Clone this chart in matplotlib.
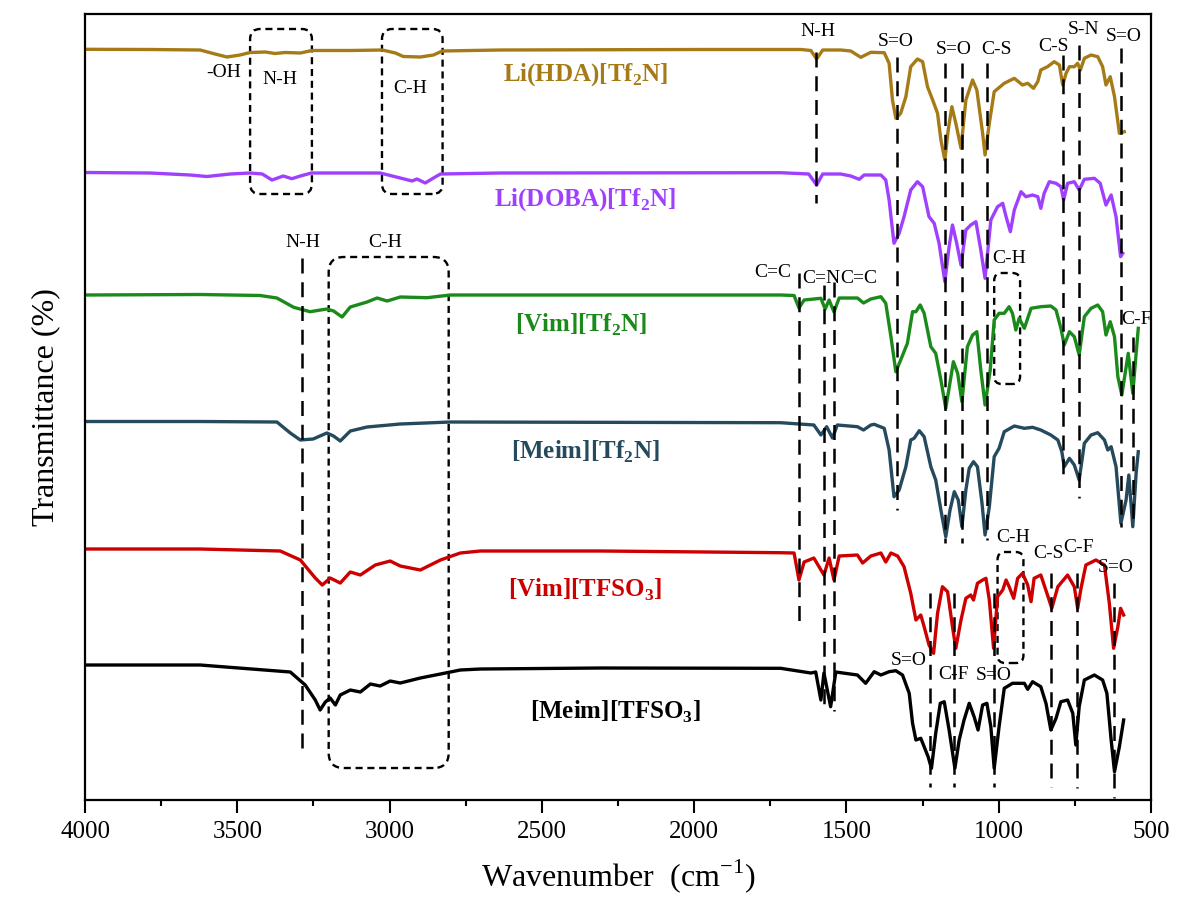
import matplotlib
matplotlib.use("Agg")
import matplotlib.pyplot as plt
from matplotlib.patches import FancyBboxPatch

plt.rcParams['font.family'] = ['Liberation Serif', 'DejaVu Serif']
plt.rcParams['mathtext.fontset'] = 'custom'
plt.rcParams['mathtext.rm'] = 'Liberation Serif'
plt.rcParams['mathtext.bf'] = 'Liberation Serif:bold'

# spectra: wavenumber (cm-1) and offset transmittance (a.u.)
hda_wn = [4000, 3786, 3622, 3573, 3534, 3491, 3458, 3408, 3376, 3343, 3293, 3255, 3129, 3024, 2981,
          2955, 2899, 2856, 2827, 2636, 1979, 1650, 1617, 1598, 1578, 1519, 1486, 1453, 1420, 1376,
          1360, 1349, 1338, 1322, 1305, 1289, 1267, 1250, 1234, 1217, 1201, 1190, 1177, 1166, 1154,
          1141, 1124, 1108, 1086, 1072, 1053, 1045, 1031, 1015, 982, 949, 922, 905, 886, 872, 862,
          840, 818, 801, 790, 779, 768, 752, 741, 732, 719, 697, 675, 659, 648, 634, 620, 604, 588]
hda_t = [750.7, 750.5, 750, 746, 743, 745, 747.5, 748, 746.5, 747.5, 747, 749.5, 749.5, 750, 747,
         743.5, 743, 745, 749, 750, 750.5, 750.5, 749.5, 741, 750, 750, 749, 742.7, 747.7, 747.3,
         736.7, 700, 681.7, 686.7, 703.3, 733.3, 741, 738.3, 713.3, 700, 686.7, 660, 640, 670, 693.3,
         676.7, 651.7, 700, 720, 710, 666.7, 645, 676.7, 708.3, 716.7, 721.7, 715, 716.7, 711.7, 718.3, 730,
         733.3, 738.3, 735, 715, 726.7, 733.3, 733.3, 736.7, 730, 741.7, 745, 743.3, 733.3, 715, 723.3, 703.3, 666.7, 668.3]

doba_wn = [4000, 3786, 3655, 3600, 3523, 3458, 3418, 3386, 3349, 3321, 3293, 3257, 3031, 2965, 2926,
           2910, 2883, 2856, 2833, 2636, 1716, 1624, 1598, 1578, 1519, 1486, 1458, 1442, 1387, 1371,
           1360, 1344, 1327, 1311, 1289, 1267, 1250, 1229, 1212, 1196, 1177, 1163, 1152, 1138, 1124,
           1108, 1092, 1075, 1059, 1045, 1026, 1004, 987, 976, 962, 949, 927, 911, 889, 872, 862, 851,
           834, 812, 796, 787, 774, 752, 736, 719, 686, 667, 648, 631, 615, 600, 593]
doba_t = [627.5, 627, 625, 623.5, 626, 627, 626, 620, 624, 621.3, 624, 627, 627, 622, 619,
          621, 617, 622, 626, 627, 627.3, 626, 615, 626, 626, 624, 620.7, 625, 625, 620,
          600, 556.7, 566.7, 583.3, 610, 618.3, 613.3, 583.3, 576.7, 556.7, 518.3, 553.3, 575, 556.7, 535,
          570, 575, 578.3, 550, 521.7, 580, 593.3, 596.7, 583.3, 568.3, 590, 608.3, 603.3, 605, 603.3, 591.7, 606.7,
          618.3, 616.7, 613.3, 600, 616.7, 618.3, 610, 620.7, 621.7, 616.7, 595, 605, 583.3, 543.3, 546.7]

vim_tf2n_wn = [4000, 3622, 3425, 3370, 3315, 3261, 3206, 3184, 3156, 3129, 3074, 3041, 3008, 2965, 2877,
               2800, 2307, 1716, 1672, 1656, 1639, 1584, 1570, 1557, 1541, 1524, 1464, 1444, 1420, 1387,
               1371, 1354, 1338, 1322, 1300, 1283, 1272, 1258, 1245, 1223, 1207, 1190, 1174, 1157, 1149,
               1135, 1121, 1103, 1086, 1072, 1059, 1045, 1028, 1015, 999, 982, 966, 955, 944, 933, 916,
               894, 862, 829, 812, 796, 785, 768, 752, 736, 719, 697, 675, 659, 648, 634, 620, 609, 596,
               585, 575, 560, 549, 542]
vim_tf2n_t = [505, 505.5, 504.5, 502, 492.7, 488.3, 491, 489, 483, 493, 498, 502, 499, 503, 502.3,
              505, 505, 505, 504.5, 492, 500, 501.7, 491, 500, 488, 502, 502, 497, 501, 503.3,
              496.7, 463.3, 428.3, 440, 456.7, 488.3, 488.3, 495, 486.7, 453.3, 446.7, 420, 391.7, 423.3, 438.3,
              426.7, 398.3, 453.3, 465, 468.3, 430, 395, 430, 480, 486.7, 486.7, 493.3, 486.7, 470, 481.7, 471.7,
              491.7, 493.3, 494, 490, 471.7, 455, 468.3, 463.3, 445, 483.3, 491.7, 495, 488.3, 465, 478.3, 463.3, 423.3, 405,
              426.7, 446.7, 406.7, 446.7, 471.7]

meim_tf2n_wn = [4000, 3622, 3370, 3326, 3293, 3251, 3206, 3184, 3162, 3129, 3074, 2965, 2800, 1716, 1607,
                1584, 1565, 1546, 1530, 1464, 1444, 1420, 1409, 1376, 1360, 1344, 1327, 1305, 1289, 1278,
                1261, 1245, 1223, 1207, 1190, 1174, 1160, 1146, 1133, 1121, 1108, 1097, 1083, 1070, 1055,
                1045, 1031, 1015, 999, 982, 949, 916, 889, 862, 829, 806, 793, 785, 768, 752, 736, 719,
                697, 675, 653, 642, 631, 615, 599, 582, 573, 560, 549, 542]
meim_tf2n_t = [378.5, 378.5, 378, 367, 360, 361, 367, 364, 359, 369, 373, 376, 378, 377.3, 375,
               365, 373.3, 362, 375, 373.3, 370, 375, 375.7, 371.7, 350, 303.3, 310, 333.3, 360, 361.7,
               369.3, 363.3, 333.3, 320, 290, 263.3, 290, 308.3, 300, 273.3, 310, 331.7, 338.3, 333.3, 296.7,
               265, 293.3, 343.3, 351.7, 368.3, 374, 371.7, 372.7, 370, 365, 360, 348.3, 333.3, 341.7, 335, 320, 356.7,
               365, 367.3, 360, 350, 353.3, 333.3, 276.7, 300, 325, 273.3, 326.7, 348.3]

vim_tfso3_wn = [4000, 3622, 3359, 3293, 3244, 3221, 3195, 3162, 3129, 3096, 3047, 2998, 2965, 2899, 2833,
                2768, 2702, 2307, 1716, 1672, 1656, 1639, 1607, 1574, 1557, 1541, 1524, 1464, 1447, 1420,
                1387, 1371, 1354, 1332, 1311, 1289, 1272, 1256, 1245, 1229, 1214, 1201, 1185, 1168, 1152,
                1141, 1124, 1108, 1092, 1083, 1070, 1053, 1042, 1031, 1017, 1004, 987, 976, 966, 951, 938,
                922, 905, 894, 884, 862, 840, 826, 806, 774, 752, 741, 730, 714, 681, 653, 637, 623, 609,
                600, 590]
vim_tfso3_t = [251, 251, 249, 240, 222, 215, 222, 217, 228, 225, 235, 239, 234, 230, 240,
               247, 249, 249, 247.3, 247, 220, 238, 242, 225, 242, 220, 244, 245, 237, 244,
               247, 238, 247, 244, 233.3, 206.7, 180, 185, 173.3, 155, 146.7, 186.7, 213.3, 208.3, 173.3,
               151.7, 180, 201.7, 205, 200, 216.7, 220, 221.7, 200, 151.7, 203.3, 210, 220, 213.3, 201.7, 221.7,
               226.7, 215, 198.3, 221.7, 225, 205, 191.7, 213.3, 225, 213.3, 191.7, 211.7, 235, 240, 235, 196.7, 151.7, 173.3,
               191.7, 185]

meim_tfso3_wn = [4000, 3622, 3326, 3277, 3244, 3228, 3211, 3195, 3178, 3162, 3129, 3096, 3063, 3031, 2998,
                 2965, 2899, 2833, 2768, 2702, 2307, 1716, 1617, 1601, 1584, 1574, 1552, 1535, 1464, 1437,
                 1409, 1387, 1360, 1338, 1316, 1294, 1283, 1272, 1256, 1245, 1232, 1221, 1207, 1192, 1179,
                 1163, 1144, 1130, 1114, 1097, 1081, 1068, 1053, 1039, 1026, 1015, 999, 982, 955, 916, 905,
                 889, 862, 845, 829, 812, 796, 774, 757, 747, 736, 719, 686, 659, 645, 631, 620, 604, 590]
meim_tfso3_t = [135, 135, 128, 115, 100, 90, 98, 102, 95, 105, 110, 108, 116, 114, 119,
                117, 122, 126, 130, 131, 132, 131.7, 127, 128, 100, 127, 93.3, 128, 125, 116.7,
                128.3, 125, 128.3, 129.3, 125, 106.7, 76.7, 60, 61.7, 53.3, 43.3, 31.7, 66.7, 96.7, 98.3,
                70, 31.7, 60, 80, 96.7, 83.3, 70, 95, 96.7, 73.3, 31.7, 73.3, 111.7, 116.7, 116.7, 110.7,
                118.3, 113.3, 96.7, 70, 81.7, 98.3, 100, 86.7, 55, 93.3, 120, 125, 120, 106.7, 60, 28.3, 53.3, 80]

series = [
    (hda_wn, hda_t, '#A67B17'),
    (doba_wn, doba_t, '#A040FF'),
    (vim_tf2n_wn, vim_tf2n_t, '#1A8A1A'),
    (meim_tf2n_wn, meim_tf2n_t, '#254A5E'),
    (vim_tfso3_wn, vim_tfso3_t, '#CC0000'),
    (meim_tfso3_wn, meim_tfso3_t, '#000000'),
]

names = [r'Li(HDA)[Tf$_{\mathbf{2}}$N]', r'Li(DOBA)[Tf$_{\mathbf{2}}$N]', r'[Vim][Tf$_{\mathbf{2}}$N]',
         r'[Meim][Tf$_{\mathbf{2}}$N]', r'[Vim][TFSO$_{\mathbf{3}}$]', r'[Meim][TFSO$_{\mathbf{3}}$]']
name_wn = [2357, 2357, 2373, 2357, 2357, 2258]
name_t = [725, 600, 475, 348, 210, 88]

# dashed band markers: wavenumber, top, bottom
mark_wn = [1599, 1335, 1176, 1121, 1039, 790, 738, 598, 559,
           3288, 1656, 1574, 1541,
           1225, 1146, 1015, 829, 743, 621]
mark_top = [748, 743, 737, 737, 737, 745, 755, 752, 463,
            542, 527, 515, 518,
            207, 207, 207, 227, 227, 217]
mark_bot = [597, 290, 257, 257, 260, 323, 302, 273, 273,
            45, 173, 88, 89,
            13, 13, 13, 13, 12, 2]

# dashed rounded boxes: wn_low, wn_high, t_low, t_high, radius (wn)
box_lo = [3255, 2826, 2806, 930, 919]
box_hi = [3458, 3025, 3200, 1015, 1004]
box_tlo = [606, 606, 32, 416, 137]
box_thi = [771, 771, 543, 527, 248]
box_r = [33, 33, 50, 25, 25]

ann_text = ['-OH', 'N-H', 'C-H', 'N-H', 'S=O', 'S=O', 'C-S', 'C-S', 'S-N', 'S=O',
            'N-H', 'C-H', 'C=C', 'C=N', 'C=C', 'C-H', 'C-F',
            'C-H', 'C-S', 'C-F', 'S=O', 'S=O', 'C-F', 'S=O']
ann_wn = [3546, 3359, 2932, 1594, 1338, 1147, 1009, 819, 720, 589,
          3284, 3014, 1742, 1584, 1460, 967, 549,
          954, 838, 737, 615, 1295, 1147, 1016]
ann_t = [727, 720, 711, 768, 758, 750, 750, 753, 770, 763,
         558, 558, 528, 522, 522, 542, 481,
         263, 247, 253, 233, 140, 126, 125]

fig = plt.figure(figsize=(11.79, 9.09), dpi=100)
ax = fig.add_axes([0.0721, 0.1199, 0.9042, 0.8647])

for wn, t, c in series:
    ax.plot(wn, t, color=c, lw=2.4, solid_joinstyle='round')

for w, t0, t1 in zip(mark_wn, mark_top, mark_bot):
    ax.plot([w, w], [t0, t1], color='black', lw=1.8, ls=(0, (6, 3.5)))

x_per_px = 3500 / 1066
for lo, hi, tl, th, r in zip(box_lo, box_hi, box_tlo, box_thi, box_r):
    ax.add_patch(FancyBboxPatch((lo, tl), hi - lo, th - tl,
                                boxstyle=f"round,pad=0,rounding_size={r}",
                                mutation_aspect=1 / x_per_px, fill=False,
                                ec='black', lw=1.7, ls=(0, (3, 2))))

for s, w, t in zip(ann_text, ann_wn, ann_t):
    ax.text(w, t, s, ha='center', va='center', fontsize=14)

for (wn, t, c), s, w, y in zip(series, names, name_wn, name_t):
    ax.text(w, y, s, ha='center', va='center', fontsize=18, fontweight='bold', color=c)

ax.set_xlim(4000, 500)
ax.set_ylim(0, 786)
ax.set_xticks([4000, 3500, 3000, 2500, 2000, 1500, 1000, 500])
ax.set_xticks([3750, 3250, 2750, 2250, 1750, 1250, 750], minor=True)
ax.set_yticks([])
ax.tick_params(axis='x', which='major', direction='out', length=9, width=1.5, labelsize=18, pad=6)
ax.tick_params(axis='x', which='minor', direction='out', length=4.5, width=1.5)
for sp in ax.spines.values():
    sp.set_linewidth(1.6)

ax.set_xlabel(r'Wavenumber  (cm$^{\mathregular{-1}}$)', fontsize=23, labelpad=10)
ax.set_ylabel('Transmittance (%)', fontsize=23, labelpad=18)

fig.savefig('out.png', dpi=100)
